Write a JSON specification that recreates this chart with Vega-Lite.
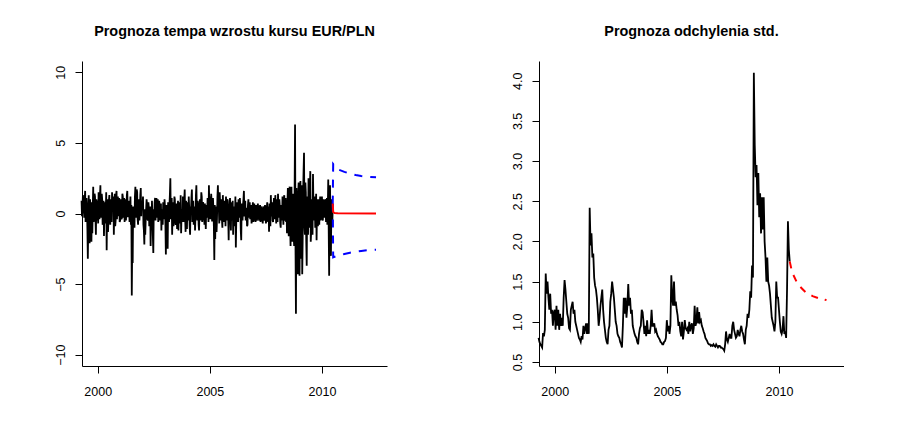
{
"$schema":"https://vega.github.io/schema/vega-lite/v6.json",
"background":"white",
"padding":{"left":52,"top":23,"right":0,"bottom":0},
"spacing":122,
"config":{"font":"Liberation Sans","view":{"stroke":null},
"axis":{"domainColor":"black","domainWidth":1,"tickColor":"black","tickWidth":1,"tickSize":7,"labelColor":"black","labelFontSize":12.5,"labelFont":"Liberation Sans","grid":false,"title":null},
"axisY":{"labelAngle":270,"labelAlign":"center","labelBaseline":"alphabetic","labelPadding":11,"minExtent":30,"maxExtent":30},
"axisX":{"labelPadding":12},
"title":{"fontSize":14.4,"fontWeight":"bold","color":"black","anchor":"middle","font":"Liberation Sans","offset":22,"baseline":"alphabetic"}},
"datasets":{
"ret":[
{"t":1999.28,"v":0.9},{"t":1999.32,"v":0.3},{"t":1999.36,"v":1.0},{"t":1999.40,"v":-0.3},{"t":1999.44,"v":1.6},{"t":1999.48,"v":-0.4},{"t":1999.52,"v":0.6},{"t":1999.56,"v":-3.2},{"t":1999.60,"v":1.3},{"t":1999.64,"v":-2.1},{"t":1999.68,"v":0.5},{"t":1999.72,"v":-2.0},{"t":1999.76,"v":-1.4},{"t":1999.80,"v":1.9},{"t":1999.84,"v":0.2},{"t":1999.88,"v":1.2},{"t":1999.92,"v":-1.5},{"t":1999.96,"v":0.8},
{"t":2000.00,"v":0.5},{"t":2000.04,"v":1.5},{"t":2000.08,"v":-0.4},{"t":2000.12,"v":2.0},{"t":2000.16,"v":0.3},{"t":2000.20,"v":1.0},{"t":2000.24,"v":-0.6},{"t":2000.28,"v":-1.6},{"t":2000.32,"v":0.8},{"t":2000.36,"v":0.2},{"t":2000.40,"v":-2.6},{"t":2000.44,"v":1.0},{"t":2000.48,"v":-0.5},{"t":2000.52,"v":1.3},{"t":2000.56,"v":-0.8},{"t":2000.60,"v":0.6},{"t":2000.64,"v":1.5},{"t":2000.68,"v":0.2},{"t":2000.72,"v":-1.5},{"t":2000.76,"v":1.4},{"t":2000.80,"v":-0.5},{"t":2000.84,"v":1.6},{"t":2000.88,"v":0.8},{"t":2000.92,"v":-0.2},{"t":2000.96,"v":1.1},
{"t":2001.00,"v":-0.5},{"t":2001.04,"v":0.7},{"t":2001.08,"v":-0.3},{"t":2001.12,"v":1.2},{"t":2001.16,"v":0.4},{"t":2001.20,"v":-0.6},{"t":2001.24,"v":1.0},{"t":2001.28,"v":0.3},{"t":2001.32,"v":1.6},{"t":2001.36,"v":-0.2},{"t":2001.40,"v":0.5},{"t":2001.44,"v":0.0},{"t":2001.48,"v":-0.8},{"t":2001.52,"v":-5.8},{"t":2001.56,"v":-3.5},{"t":2001.60,"v":0.2},{"t":2001.64,"v":-1.0},{"t":2001.68,"v":1.9},{"t":2001.72,"v":0.5},{"t":2001.76,"v":1.5},{"t":2001.80,"v":-0.8},{"t":2001.84,"v":1.0},{"t":2001.88,"v":0.2},{"t":2001.92,"v":1.8},{"t":2001.96,"v":0.9},
{"t":2002.00,"v":0.5},{"t":2002.04,"v":-0.8},{"t":2002.08,"v":-2.2},{"t":2002.12,"v":-1.5},{"t":2002.16,"v":0.3},{"t":2002.20,"v":0.6},{"t":2002.24,"v":-0.5},{"t":2002.28,"v":0.4},{"t":2002.32,"v":0.2},{"t":2002.36,"v":-2.3},{"t":2002.40,"v":-1.0},{"t":2002.44,"v":-0.2},{"t":2002.48,"v":-2.8},{"t":2002.52,"v":-0.5},{"t":2002.56,"v":1.1},{"t":2002.60,"v":0.6},{"t":2002.64,"v":-0.3},{"t":2002.68,"v":1.0},{"t":2002.72,"v":-0.3},{"t":2002.76,"v":0.6},{"t":2002.80,"v":0.1},{"t":2002.84,"v":-1.2},{"t":2002.88,"v":0.2},{"t":2002.92,"v":0.8},{"t":2002.96,"v":-0.4},
{"t":2003.00,"v":0.5},{"t":2003.04,"v":-2.9},{"t":2003.08,"v":-1.0},{"t":2003.12,"v":-2.5},{"t":2003.16,"v":0.2},{"t":2003.20,"v":0.6},{"t":2003.24,"v":2.5},{"t":2003.28,"v":0.5},{"t":2003.32,"v":-1.5},{"t":2003.36,"v":0.8},{"t":2003.40,"v":-0.5},{"t":2003.44,"v":1.0},{"t":2003.48,"v":-0.8},{"t":2003.52,"v":0.5},{"t":2003.56,"v":-0.2},{"t":2003.60,"v":-1.2},{"t":2003.64,"v":0.8},{"t":2003.68,"v":-0.3},{"t":2003.72,"v":-1.4},{"t":2003.76,"v":0.3},{"t":2003.80,"v":1.2},{"t":2003.84,"v":-0.6},{"t":2003.88,"v":1.7},{"t":2003.92,"v":-1.3},{"t":2003.96,"v":0.4},
{"t":2004.00,"v":0.8},{"t":2004.04,"v":-0.5},{"t":2004.08,"v":0.4},{"t":2004.12,"v":-1.5},{"t":2004.16,"v":0.2},{"t":2004.20,"v":1.7},{"t":2004.24,"v":0.2},{"t":2004.28,"v":-0.8},{"t":2004.32,"v":0.5},{"t":2004.36,"v":-0.2},{"t":2004.40,"v":2.0},{"t":2004.44,"v":-0.5},{"t":2004.48,"v":0.6},{"t":2004.52,"v":-1.2},{"t":2004.56,"v":1.0},{"t":2004.60,"v":0.3},{"t":2004.64,"v":1.2},{"t":2004.68,"v":-0.3},{"t":2004.72,"v":0.5},{"t":2004.76,"v":-0.8},{"t":2004.80,"v":-0.2},{"t":2004.84,"v":0.6},{"t":2004.88,"v":-0.3},{"t":2004.92,"v":0.4},{"t":2004.96,"v":2.0},
{"t":2005.00,"v":1.2},{"t":2005.04,"v":0.2},{"t":2005.08,"v":0.8},{"t":2005.12,"v":-0.5},{"t":2005.16,"v":0.3},{"t":2005.20,"v":-3.3},{"t":2005.24,"v":-1.8},{"t":2005.28,"v":0.5},{"t":2005.32,"v":-0.3},{"t":2005.36,"v":2.0},{"t":2005.40,"v":0.5},{"t":2005.44,"v":1.5},{"t":2005.48,"v":-0.5},{"t":2005.52,"v":0.8},{"t":2005.56,"v":-1.0},{"t":2005.60,"v":0.4},{"t":2005.64,"v":-0.3},{"t":2005.68,"v":0.5},{"t":2005.72,"v":1.2},{"t":2005.76,"v":-0.5},{"t":2005.80,"v":0.9},{"t":2005.84,"v":-1.9},{"t":2005.88,"v":0.5},{"t":2005.92,"v":-0.2},{"t":2005.96,"v":0.8},
{"t":2006.00,"v":-0.5},{"t":2006.04,"v":-1.5},{"t":2006.08,"v":0.5},{"t":2006.12,"v":-0.3},{"t":2006.16,"v":-2.4},{"t":2006.20,"v":0.2},{"t":2006.24,"v":0.6},{"t":2006.28,"v":1.0},{"t":2006.32,"v":-0.3},{"t":2006.36,"v":0.4},{"t":2006.40,"v":-1.9},{"t":2006.44,"v":0.2},{"t":2006.48,"v":0.6},{"t":2006.52,"v":1.6},{"t":2006.56,"v":0.2},{"t":2006.60,"v":-0.5},{"t":2006.64,"v":0.3},{"t":2006.68,"v":-0.8},{"t":2006.72,"v":1.0},{"t":2006.76,"v":0.3},{"t":2006.80,"v":-0.4},{"t":2006.84,"v":0.6},{"t":2006.88,"v":-0.5},{"t":2006.92,"v":0.8},{"t":2006.96,"v":-0.3},
{"t":2007.00,"v":0.3},{"t":2007.04,"v":-0.6},{"t":2007.08,"v":0.5},{"t":2007.12,"v":-0.2},{"t":2007.16,"v":0.4},{"t":2007.20,"v":-0.5},{"t":2007.24,"v":0.6},{"t":2007.28,"v":-0.3},{"t":2007.32,"v":0.2},{"t":2007.36,"v":-0.7},{"t":2007.40,"v":0.5},{"t":2007.44,"v":-0.4},{"t":2007.48,"v":0.3},{"t":2007.52,"v":-0.5},{"t":2007.56,"v":0.8},{"t":2007.60,"v":-0.6},{"t":2007.64,"v":-1.3},{"t":2007.68,"v":0.4},{"t":2007.72,"v":1.3},{"t":2007.76,"v":-0.2},{"t":2007.80,"v":-0.5},{"t":2007.84,"v":0.6},{"t":2007.88,"v":1.0},{"t":2007.92,"v":1.3},{"t":2007.96,"v":-0.7},
{"t":2008.00,"v":0.8},{"t":2008.04,"v":1.4},{"t":2008.08,"v":-0.3},{"t":2008.12,"v":0.5},{"t":2008.16,"v":-1.0},{"t":2008.20,"v":0.5},{"t":2008.24,"v":1.2},{"t":2008.28,"v":-0.8},{"t":2008.32,"v":1.3},{"t":2008.36,"v":-0.2},{"t":2008.40,"v":-0.6},{"t":2008.44,"v":-1.4},{"t":2008.48,"v":1.8},{"t":2008.52,"v":-1.6},{"t":2008.56,"v":1.9},{"t":2008.60,"v":-2.3},{"t":2008.64,"v":1.9},{"t":2008.68,"v":-2.0},{"t":2008.72,"v":0.5},{"t":2008.76,"v":-2.3},{"t":2008.80,"v":6.3},{"t":2008.84,"v":-7.1},{"t":2008.88,"v":-2.5},{"t":2008.92,"v":-4.3},{"t":2008.96,"v":2.2},
{"t":2009.00,"v":-4.4},{"t":2009.04,"v":2.3},{"t":2009.08,"v":-3.2},{"t":2009.12,"v":-4.3},{"t":2009.16,"v":1.5},{"t":2009.20,"v":4.3},{"t":2009.24,"v":-1.5},{"t":2009.28,"v":1.5},{"t":2009.32,"v":-3.7},{"t":2009.36,"v":0.5},{"t":2009.40,"v":2.5},{"t":2009.44,"v":-1.0},{"t":2009.48,"v":3.0},{"t":2009.52,"v":-1.2},{"t":2009.56,"v":1.0},{"t":2009.60,"v":2.8},{"t":2009.64,"v":-0.5},{"t":2009.68,"v":0.8},{"t":2009.72,"v":-0.6},{"t":2009.76,"v":-1.9},{"t":2009.80,"v":1.0},{"t":2009.84,"v":0.2},{"t":2009.88,"v":-0.8},{"t":2009.92,"v":1.2},{"t":2009.96,"v":0.3},
{"t":2010.00,"v":1.2},{"t":2010.04,"v":-0.5},{"t":2010.08,"v":0.8},{"t":2010.12,"v":-0.3},{"t":2010.16,"v":1.0},{"t":2010.20,"v":0.5},{"t":2010.24,"v":-0.8},{"t":2010.28,"v":2.4},{"t":2010.32,"v":-4.4},{"t":2010.36,"v":2.0},{"t":2010.40,"v":-3.0},{"t":2010.44,"v":1.0},{"t":2010.48,"v":0.7},
{"t":1999.30,"v":-0.2},{"t":1999.34,"v":1.3},{"t":1999.38,"v":0.5},{"t":1999.42,"v":0.9},{"t":1999.46,"v":-0.6},{"t":1999.50,"v":1.1},{"t":1999.54,"v":-1.0},{"t":1999.58,"v":-0.8},{"t":1999.62,"v":-0.5},{"t":1999.66,"v":1.0},{"t":1999.70,"v":-1.2},{"t":1999.74,"v":0.8},{"t":1999.78,"v":0.4},{"t":1999.82,"v":-0.6},{"t":1999.86,"v":1.4},{"t":1999.90,"v":-0.3},{"t":1999.94,"v":1.0},{"t":1999.98,"v":-0.5},
{"t":2000.02,"v":-0.7},{"t":2000.06,"v":0.6},{"t":2000.10,"v":1.2},{"t":2000.14,"v":-0.3},{"t":2000.18,"v":1.4},{"t":2000.22,"v":-0.8},{"t":2000.26,"v":0.9},{"t":2000.30,"v":0.3},{"t":2000.34,"v":-0.7},{"t":2000.38,"v":1.5},{"t":2000.42,"v":0.4},{"t":2000.46,"v":-1.3},{"t":2000.50,"v":0.9},{"t":2000.54,"v":-0.2},{"t":2000.58,"v":1.0},{"t":2000.62,"v":-0.6},{"t":2000.66,"v":0.3},{"t":2000.70,"v":1.2},{"t":2000.74,"v":0.5},{"t":2000.78,"v":-0.9},{"t":2000.82,"v":1.3},{"t":2000.86,"v":-0.4},{"t":2000.90,"v":1.2},{"t":2000.94,"v":0.5},{"t":2000.98,"v":-0.6},
{"t":2001.02,"v":1.0},{"t":2001.06,"v":-0.4},{"t":2001.10,"v":1.4},{"t":2001.14,"v":-0.3},{"t":2001.18,"v":1.1},{"t":2001.22,"v":0.8},{"t":2001.26,"v":-0.5},{"t":2001.30,"v":1.3},{"t":2001.34,"v":-0.2},{"t":2001.38,"v":0.9},{"t":2001.42,"v":-0.6},{"t":2001.46,"v":1.2},{"t":2001.50,"v":0.6},{"t":2001.54,"v":-2.0},{"t":2001.58,"v":0.5},{"t":2001.62,"v":-0.6},{"t":2001.66,"v":1.2},{"t":2001.70,"v":-0.3},{"t":2001.74,"v":1.7},{"t":2001.78,"v":-0.4},{"t":2001.82,"v":0.6},{"t":2001.86,"v":-0.5},{"t":2001.90,"v":1.3},{"t":2001.94,"v":-0.2},{"t":2001.98,"v":0.4},
{"t":2002.02,"v":1.2},{"t":2002.06,"v":-1.2},{"t":2002.10,"v":0.3},{"t":2002.14,"v":-0.5},{"t":2002.18,"v":1.0},{"t":2002.22,"v":-0.4},{"t":2002.26,"v":0.8},{"t":2002.30,"v":-0.9},{"t":2002.34,"v":0.5},{"t":2002.38,"v":-0.4},{"t":2002.42,"v":0.9},{"t":2002.46,"v":-1.6},{"t":2002.50,"v":0.3},{"t":2002.54,"v":0.8},{"t":2002.58,"v":-0.5},{"t":2002.62,"v":1.1},{"t":2002.66,"v":0.2},{"t":2002.70,"v":-0.6},{"t":2002.74,"v":0.9},{"t":2002.78,"v":-0.5},{"t":2002.82,"v":0.7},{"t":2002.86,"v":0.3},{"t":2002.90,"v":-0.8},{"t":2002.94,"v":0.4},{"t":2002.98,"v":1.0},
{"t":2003.02,"v":-0.8},{"t":2003.06,"v":0.6},{"t":2003.10,"v":-1.8},{"t":2003.14,"v":0.8},{"t":2003.18,"v":-0.6},{"t":2003.22,"v":1.4},{"t":2003.26,"v":-0.4},{"t":2003.30,"v":1.1},{"t":2003.34,"v":0.4},{"t":2003.38,"v":-0.9},{"t":2003.42,"v":1.2},{"t":2003.46,"v":-0.5},{"t":2003.50,"v":0.7},{"t":2003.54,"v":-1.1},{"t":2003.58,"v":0.9},{"t":2003.62,"v":0.2},{"t":2003.66,"v":-0.7},{"t":2003.70,"v":1.3},{"t":2003.74,"v":0.1},{"t":2003.78,"v":-0.6},{"t":2003.82,"v":0.5},{"t":2003.86,"v":1.0},{"t":2003.90,"v":-0.4},{"t":2003.94,"v":0.9},{"t":2003.98,"v":-1.1},
{"t":2004.02,"v":0.2},{"t":2004.06,"v":1.2},{"t":2004.10,"v":-0.9},{"t":2004.14,"v":0.5},{"t":2004.18,"v":1.1},{"t":2004.22,"v":-0.6},{"t":2004.26,"v":0.9},{"t":2004.30,"v":0.3},{"t":2004.34,"v":-1.2},{"t":2004.38,"v":1.3},{"t":2004.42,"v":0.2},{"t":2004.46,"v":0.9},{"t":2004.50,"v":-0.8},{"t":2004.54,"v":0.4},{"t":2004.58,"v":-0.5},{"t":2004.62,"v":1.5},{"t":2004.66,"v":-0.6},{"t":2004.70,"v":0.8},{"t":2004.74,"v":0.2},{"t":2004.78,"v":0.7},{"t":2004.82,"v":-1.1},{"t":2004.86,"v":0.3},{"t":2004.90,"v":1.1},{"t":2004.94,"v":-0.6},{"t":2004.98,"v":0.3},
{"t":2005.02,"v":-0.4},{"t":2005.06,"v":1.4},{"t":2005.10,"v":-0.5},{"t":2005.14,"v":1.1},{"t":2005.18,"v":-0.9},{"t":2005.22,"v":0.6},{"t":2005.26,"v":0.4},{"t":2005.30,"v":-1.3},{"t":2005.34,"v":1.2},{"t":2005.38,"v":0.3},{"t":2005.42,"v":-0.7},{"t":2005.46,"v":0.6},{"t":2005.50,"v":1.0},{"t":2005.54,"v":-0.4},{"t":2005.58,"v":1.3},{"t":2005.62,"v":-0.6},{"t":2005.66,"v":0.9},{"t":2005.70,"v":-0.9},{"t":2005.74,"v":0.3},{"t":2005.78,"v":1.0},{"t":2005.82,"v":-0.3},{"t":2005.86,"v":0.4},{"t":2005.90,"v":1.1},{"t":2005.94,"v":-1.2},{"t":2005.98,"v":0.5},
{"t":2006.02,"v":0.9},{"t":2006.06,"v":0.4},{"t":2006.10,"v":-0.9},{"t":2006.14,"v":1.2},{"t":2006.18,"v":-0.4},{"t":2006.22,"v":0.8},{"t":2006.26,"v":-0.6},{"t":2006.30,"v":0.3},{"t":2006.34,"v":1.1},{"t":2006.38,"v":-1.2},{"t":2006.42,"v":0.7},{"t":2006.46,"v":-0.5},{"t":2006.50,"v":1.0},{"t":2006.54,"v":-0.2},{"t":2006.58,"v":0.9},{"t":2006.62,"v":0.4},{"t":2006.66,"v":-0.9},{"t":2006.70,"v":0.6},{"t":2006.74,"v":-0.3},{"t":2006.78,"v":0.8},{"t":2006.82,"v":0.5},{"t":2006.86,"v":-0.7},{"t":2006.90,"v":0.4},{"t":2006.94,"v":-0.6},{"t":2006.98,"v":0.7},
{"t":2007.02,"v":-0.4},{"t":2007.06,"v":0.6},{"t":2007.10,"v":-0.5},{"t":2007.14,"v":0.7},{"t":2007.18,"v":-0.3},{"t":2007.22,"v":0.4},{"t":2007.26,"v":-0.6},{"t":2007.30,"v":0.5},{"t":2007.34,"v":-0.4},{"t":2007.38,"v":0.3},{"t":2007.42,"v":-0.5},{"t":2007.46,"v":0.6},{"t":2007.50,"v":-0.7},{"t":2007.54,"v":0.4},{"t":2007.58,"v":-0.3},{"t":2007.62,"v":0.5},{"t":2007.66,"v":0.7},{"t":2007.70,"v":-0.9},{"t":2007.74,"v":0.2},{"t":2007.78,"v":0.8},{"t":2007.82,"v":-0.6},{"t":2007.86,"v":1.1},{"t":2007.90,"v":-0.4},{"t":2007.94,"v":0.2},{"t":2007.98,"v":1.0},
{"t":2008.02,"v":-0.6},{"t":2008.06,"v":0.3},{"t":2008.10,"v":1.0},{"t":2008.14,"v":-0.7},{"t":2008.18,"v":0.6},{"t":2008.22,"v":-0.5},{"t":2008.26,"v":0.2},{"t":2008.30,"v":1.0},{"t":2008.34,"v":-0.5},{"t":2008.38,"v":1.1},{"t":2008.42,"v":0.5},{"t":2008.46,"v":0.8},{"t":2008.50,"v":-1.0},{"t":2008.54,"v":1.3},{"t":2008.58,"v":-0.8},{"t":2008.62,"v":1.2},{"t":2008.66,"v":-1.2},{"t":2008.70,"v":1.4},{"t":2008.74,"v":-1.6},{"t":2008.78,"v":1.5},{"t":2008.82,"v":-2.2},{"t":2008.86,"v":1.8},{"t":2008.90,"v":-3.8},{"t":2008.94,"v":1.5},{"t":2008.98,"v":-2.0},
{"t":2009.02,"v":1.0},{"t":2009.06,"v":-2.5},{"t":2009.10,"v":2.0},{"t":2009.14,"v":-1.8},{"t":2009.18,"v":3.0},{"t":2009.22,"v":-0.8},{"t":2009.26,"v":2.2},{"t":2009.30,"v":-2.0},{"t":2009.34,"v":1.2},{"t":2009.38,"v":-1.5},{"t":2009.42,"v":0.8},{"t":2009.46,"v":1.8},{"t":2009.50,"v":-2.0},{"t":2009.54,"v":0.9},{"t":2009.58,"v":-1.5},{"t":2009.62,"v":0.5},{"t":2009.66,"v":1.2},{"t":2009.70,"v":-1.0},{"t":2009.74,"v":1.4},{"t":2009.78,"v":0.5},{"t":2009.82,"v":-0.9},{"t":2009.86,"v":1.0},{"t":2009.90,"v":0.6},{"t":2009.94,"v":-0.5},{"t":2009.98,"v":0.9},
{"t":2010.02,"v":-0.4},{"t":2010.06,"v":1.0},{"t":2010.10,"v":0.2},{"t":2010.14,"v":0.9},{"t":2010.18,"v":-0.6},{"t":2010.22,"v":1.1},{"t":2010.26,"v":0.3},{"t":2010.30,"v":-1.0},{"t":2010.34,"v":0.5},{"t":2010.38,"v":-1.5},{"t":2010.42,"v":0.6},{"t":2010.46,"v":-0.9}
],
"fm":[{"t":2010.48,"v":0.7},{"t":2010.50,"v":0.1},{"t":2010.56,"v":0.03},{"t":2010.7,"v":0.01},{"t":2012.41,"v":0.0}],
"fu":[{"t":2010.48,"v":0.7},{"t":2010.50,"v":3.5},{"t":2010.6,"v":3.3},{"t":2010.75,"v":3.1},{"t":2011.0,"v":2.95},{"t":2011.25,"v":2.82},{"t":2011.5,"v":2.72},{"t":2011.75,"v":2.65},{"t":2012.0,"v":2.6},{"t":2012.41,"v":2.56}],
"fl":[{"t":2010.48,"v":0.7},{"t":2010.50,"v":-3.1},{"t":2010.6,"v":-3.05},{"t":2010.75,"v":-2.98},{"t":2011.0,"v":-2.87},{"t":2011.25,"v":-2.78},{"t":2011.5,"v":-2.7},{"t":2011.75,"v":-2.65},{"t":2012.0,"v":-2.6},{"t":2012.41,"v":-2.57}],
"sd":[
{"t":1999.28,"v":0.80},{"t":1999.32,"v":0.75},{"t":1999.36,"v":0.72},{"t":1999.40,"v":0.70},{"t":1999.44,"v":0.68},{"t":1999.48,"v":0.86},{"t":1999.52,"v":0.82},{"t":1999.56,"v":0.90},{"t":1999.60,"v":1.60},{"t":1999.64,"v":1.35},{"t":1999.68,"v":1.50},{"t":1999.72,"v":1.30},{"t":1999.76,"v":1.15},{"t":1999.80,"v":1.35},{"t":1999.84,"v":1.10},{"t":1999.88,"v":1.15},{"t":1999.92,"v":0.95},{"t":1999.96,"v":1.12},
{"t":2000.00,"v":1.15},{"t":2000.04,"v":0.90},{"t":2000.08,"v":1.20},{"t":2000.12,"v":0.95},{"t":2000.16,"v":1.15},{"t":2000.20,"v":0.90},{"t":2000.24,"v":1.10},{"t":2000.28,"v":0.95},{"t":2000.32,"v":1.05},{"t":2000.36,"v":0.95},{"t":2000.40,"v":1.30},{"t":2000.44,"v":1.52},{"t":2000.48,"v":1.40},{"t":2000.52,"v":1.25},{"t":2000.56,"v":1.10},{"t":2000.60,"v":1.05},{"t":2000.64,"v":0.92},{"t":2000.68,"v":0.90},{"t":2000.72,"v":1.15},{"t":2000.76,"v":1.20},{"t":2000.80,"v":1.25},{"t":2000.84,"v":1.10},{"t":2000.88,"v":1.15},{"t":2000.92,"v":1.00},{"t":2000.96,"v":0.95},
{"t":2001.00,"v":0.90},{"t":2001.04,"v":0.85},{"t":2001.08,"v":0.80},{"t":2001.12,"v":0.78},{"t":2001.16,"v":0.75},{"t":2001.20,"v":0.82},{"t":2001.24,"v":0.78},{"t":2001.28,"v":0.95},{"t":2001.32,"v":0.85},{"t":2001.36,"v":0.92},{"t":2001.40,"v":0.98},{"t":2001.44,"v":0.85},{"t":2001.48,"v":0.98},{"t":2001.52,"v":0.85},{"t":2001.56,"v":2.42},{"t":2001.60,"v":1.95},{"t":2001.64,"v":2.10},{"t":2001.68,"v":1.80},{"t":2001.72,"v":1.85},{"t":2001.76,"v":1.55},{"t":2001.80,"v":1.45},{"t":2001.84,"v":1.40},{"t":2001.88,"v":1.30},{"t":2001.92,"v":1.15},{"t":2001.96,"v":0.95},
{"t":2002.00,"v":1.05},{"t":2002.04,"v":1.20},{"t":2002.08,"v":1.30},{"t":2002.12,"v":1.40},{"t":2002.16,"v":1.15},{"t":2002.20,"v":1.00},{"t":2002.24,"v":0.90},{"t":2002.28,"v":0.80},{"t":2002.32,"v":0.75},{"t":2002.36,"v":0.72},{"t":2002.40,"v":0.90},{"t":2002.44,"v":0.95},{"t":2002.48,"v":1.25},{"t":2002.52,"v":1.35},{"t":2002.56,"v":1.50},{"t":2002.60,"v":1.40},{"t":2002.64,"v":1.30},{"t":2002.68,"v":1.15},{"t":2002.72,"v":1.00},{"t":2002.76,"v":0.95},{"t":2002.80,"v":0.85},{"t":2002.84,"v":0.82},{"t":2002.88,"v":0.80},{"t":2002.92,"v":0.75},{"t":2002.96,"v":0.72},
{"t":2003.00,"v":0.68},{"t":2003.04,"v":0.95},{"t":2003.08,"v":1.30},{"t":2003.12,"v":1.10},{"t":2003.16,"v":1.30},{"t":2003.20,"v":1.05},{"t":2003.24,"v":1.20},{"t":2003.28,"v":1.47},{"t":2003.32,"v":1.20},{"t":2003.36,"v":1.30},{"t":2003.40,"v":1.10},{"t":2003.44,"v":1.15},{"t":2003.48,"v":0.95},{"t":2003.52,"v":0.90},{"t":2003.56,"v":0.85},{"t":2003.60,"v":0.82},{"t":2003.64,"v":0.80},{"t":2003.68,"v":0.75},{"t":2003.72,"v":0.72},{"t":2003.76,"v":0.85},{"t":2003.80,"v":0.92},{"t":2003.84,"v":0.95},{"t":2003.88,"v":1.15},{"t":2003.92,"v":1.12},{"t":2003.96,"v":1.00},
{"t":2004.00,"v":0.85},{"t":2004.04,"v":0.95},{"t":2004.08,"v":0.82},{"t":2004.12,"v":1.02},{"t":2004.16,"v":0.85},{"t":2004.20,"v":0.90},{"t":2004.24,"v":0.85},{"t":2004.28,"v":0.95},{"t":2004.32,"v":1.15},{"t":2004.36,"v":0.95},{"t":2004.40,"v":0.95},{"t":2004.44,"v":0.98},{"t":2004.48,"v":0.88},{"t":2004.52,"v":0.90},{"t":2004.56,"v":0.85},{"t":2004.60,"v":0.82},{"t":2004.64,"v":0.80},{"t":2004.68,"v":0.78},{"t":2004.72,"v":0.75},{"t":2004.76,"v":0.74},{"t":2004.80,"v":0.72},{"t":2004.84,"v":0.72},{"t":2004.88,"v":0.75},{"t":2004.92,"v":0.76},{"t":2004.96,"v":0.80},
{"t":2005.00,"v":1.02},{"t":2005.04,"v":0.88},{"t":2005.08,"v":0.95},{"t":2005.12,"v":0.85},{"t":2005.16,"v":0.95},{"t":2005.20,"v":1.58},{"t":2005.24,"v":1.30},{"t":2005.28,"v":1.20},{"t":2005.32,"v":1.50},{"t":2005.36,"v":1.20},{"t":2005.40,"v":1.25},{"t":2005.44,"v":1.15},{"t":2005.48,"v":1.08},{"t":2005.52,"v":0.95},{"t":2005.56,"v":1.00},{"t":2005.60,"v":0.88},{"t":2005.64,"v":0.82},{"t":2005.68,"v":1.00},{"t":2005.72,"v":0.78},{"t":2005.76,"v":0.88},{"t":2005.80,"v":1.02},{"t":2005.84,"v":0.92},{"t":2005.88,"v":0.90},{"t":2005.92,"v":0.92},{"t":2005.96,"v":0.85},
{"t":2006.00,"v":1.00},{"t":2006.04,"v":0.88},{"t":2006.08,"v":0.95},{"t":2006.12,"v":0.98},{"t":2006.16,"v":0.85},{"t":2006.20,"v":0.92},{"t":2006.24,"v":1.20},{"t":2006.28,"v":0.95},{"t":2006.32,"v":1.00},{"t":2006.36,"v":1.18},{"t":2006.40,"v":0.98},{"t":2006.44,"v":1.12},{"t":2006.48,"v":1.00},{"t":2006.52,"v":1.02},{"t":2006.56,"v":0.95},{"t":2006.60,"v":0.92},{"t":2006.64,"v":0.88},{"t":2006.68,"v":0.85},{"t":2006.72,"v":0.80},{"t":2006.76,"v":0.78},{"t":2006.80,"v":0.76},{"t":2006.84,"v":0.73},{"t":2006.88,"v":0.72},{"t":2006.92,"v":0.72},{"t":2006.96,"v":0.70},
{"t":2007.00,"v":0.71},{"t":2007.04,"v":0.70},{"t":2007.08,"v":0.72},{"t":2007.12,"v":0.70},{"t":2007.16,"v":0.69},{"t":2007.20,"v":0.72},{"t":2007.24,"v":0.70},{"t":2007.28,"v":0.68},{"t":2007.32,"v":0.70},{"t":2007.36,"v":0.70},{"t":2007.40,"v":0.68},{"t":2007.44,"v":0.68},{"t":2007.48,"v":0.67},{"t":2007.52,"v":0.66},{"t":2007.56,"v":0.64},{"t":2007.60,"v":0.72},{"t":2007.64,"v":0.88},{"t":2007.68,"v":0.78},{"t":2007.72,"v":0.75},{"t":2007.76,"v":0.80},{"t":2007.80,"v":0.85},{"t":2007.84,"v":0.80},{"t":2007.88,"v":0.80},{"t":2007.92,"v":0.95},{"t":2007.96,"v":1.00},
{"t":2008.00,"v":0.90},{"t":2008.04,"v":0.85},{"t":2008.08,"v":0.80},{"t":2008.12,"v":0.82},{"t":2008.16,"v":0.90},{"t":2008.20,"v":0.85},{"t":2008.24,"v":0.82},{"t":2008.28,"v":0.90},{"t":2008.32,"v":0.95},{"t":2008.36,"v":0.88},{"t":2008.40,"v":0.85},{"t":2008.44,"v":0.78},{"t":2008.48,"v":0.72},{"t":2008.52,"v":0.90},{"t":2008.56,"v":0.95},{"t":2008.60,"v":1.10},{"t":2008.64,"v":1.05},{"t":2008.68,"v":1.15},{"t":2008.72,"v":1.38},{"t":2008.76,"v":1.30},{"t":2008.80,"v":1.70},{"t":2008.84,"v":1.55},{"t":2008.88,"v":4.10},{"t":2008.92,"v":3.20},{"t":2008.96,"v":2.80},
{"t":2009.00,"v":2.95},{"t":2009.04,"v":2.45},{"t":2009.08,"v":2.85},{"t":2009.12,"v":2.30},{"t":2009.16,"v":2.60},{"t":2009.20,"v":2.10},{"t":2009.24,"v":2.55},{"t":2009.28,"v":2.15},{"t":2009.32,"v":2.55},{"t":2009.36,"v":2.00},{"t":2009.40,"v":1.80},{"t":2009.44,"v":1.50},{"t":2009.48,"v":1.80},{"t":2009.52,"v":1.50},{"t":2009.56,"v":1.45},{"t":2009.60,"v":1.35},{"t":2009.64,"v":1.20},{"t":2009.68,"v":1.05},{"t":2009.72,"v":1.00},{"t":2009.76,"v":0.95},{"t":2009.80,"v":0.88},{"t":2009.84,"v":1.00},{"t":2009.88,"v":1.50},{"t":2009.92,"v":1.30},{"t":2009.96,"v":1.30},
{"t":2010.00,"v":1.15},{"t":2010.04,"v":1.00},{"t":2010.08,"v":0.88},{"t":2010.12,"v":0.85},{"t":2010.16,"v":0.90},{"t":2010.20,"v":1.07},{"t":2010.24,"v":0.85},{"t":2010.28,"v":0.88},{"t":2010.32,"v":0.80},{"t":2010.36,"v":1.40},{"t":2010.40,"v":2.25},{"t":2010.44,"v":1.90},{"t":2010.48,"v":1.75}
],
"sdfc":[{"t":2010.48,"v":1.75},{"t":2010.56,"v":1.65},{"t":2010.63,"v":1.59},{"t":2010.8,"v":1.49},{"t":2011.0,"v":1.42},{"t":2011.22,"v":1.36},{"t":2011.5,"v":1.32},{"t":2011.8,"v":1.29},{"t":2012.12,"v":1.27}]
},
"hconcat":[
{"width":305,"height":305,
"title":{"text":"Prognoza tempa wzrostu kursu EUR/PLN"},
"layer":[
{"data":{"name":"ret"},"mark":{"type":"line","color":"black","strokeWidth":1.8},
"encoding":{"x":{"field":"t","type":"quantitative","scale":{"domain":[1999.3,2012.9],"nice":false,"zero":false},"axis":{"values":[2000,2005,2010],"format":"d"}},
"y":{"field":"v","type":"quantitative","scale":{"domain":[-10.8,10.8],"nice":false,"zero":false},"axis":{"values":[-10,-5,0,5,10]}}}},
{"data":{"name":"fu"},"mark":{"type":"line","color":"blue","strokeWidth":2,"strokeDash":[8,8]},
"encoding":{"x":{"field":"t","type":"quantitative"},"y":{"field":"v","type":"quantitative"}}},
{"data":{"name":"fl"},"mark":{"type":"line","color":"blue","strokeWidth":2,"strokeDash":[8,8]},
"encoding":{"x":{"field":"t","type":"quantitative"},"y":{"field":"v","type":"quantitative"}}},
{"data":{"name":"fm"},"mark":{"type":"line","color":"red","strokeWidth":2},
"encoding":{"x":{"field":"t","type":"quantitative"},"y":{"field":"v","type":"quantitative"}}}
]},
{"width":305,"height":305,
"title":{"text":"Prognoza odchylenia std."},
"layer":[
{"data":{"name":"sd"},"mark":{"type":"line","color":"black","strokeWidth":1.8},
"encoding":{"x":{"field":"t","type":"quantitative","scale":{"domain":[1999.3,2012.9],"nice":false,"zero":false},"axis":{"values":[2000,2005,2010],"format":"d"}},
"y":{"field":"v","type":"quantitative","scale":{"domain":[0.45,4.245],"nice":false,"zero":false},"axis":{"values":[0.5,1,1.5,2,2.5,3,3.5,4],"format":".1f"}}}},
{"data":{"name":"sdfc"},"mark":{"type":"line","color":"red","strokeWidth":2,"strokeDash":[7,7]},
"encoding":{"x":{"field":"t","type":"quantitative"},"y":{"field":"v","type":"quantitative"}}}
]}
]
}
